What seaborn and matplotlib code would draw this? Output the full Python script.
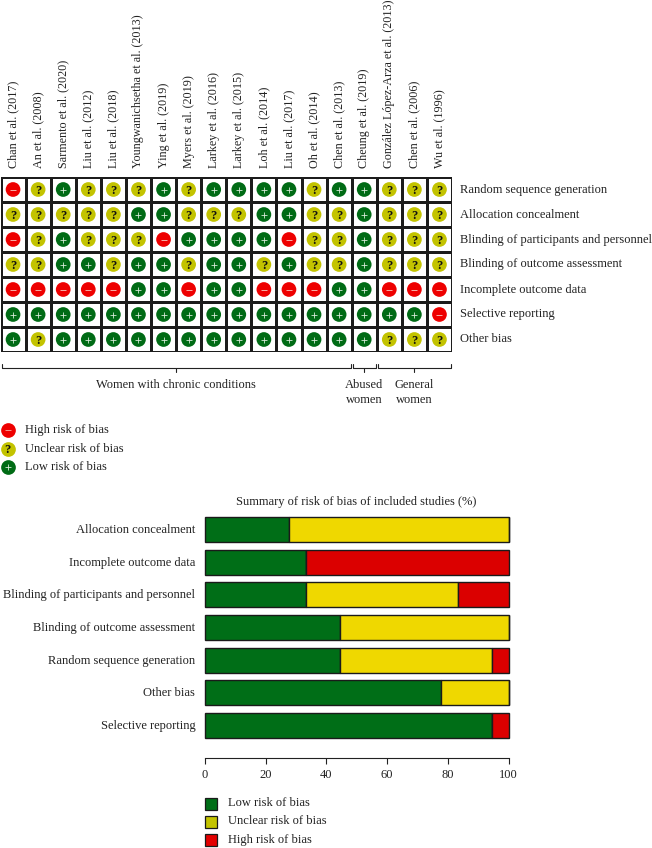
"""Risk of bias graph: per-study traffic lights plus summary stacked bars."""

import matplotlib

matplotlib.use("Agg")
import matplotlib.pyplot as plt
import numpy as np
import pandas as pd
import seaborn as sns
from matplotlib.colors import ListedColormap
from matplotlib.patches import Rectangle
from matplotlib.transforms import ScaledTranslation

W, H = 652, 848

studies = [
    "Chan et al. (2017)", "An et al. (2008)", "Sarmento et al. (2020)",
    "Liu et al. (2012)", "Liu et al. (2018)", "Youngwanichsetha et al. (2013)",
    "Ying et al. (2019)", "Myers et al. (2019)", "Larkey et al. (2016)",
    "Larkey et al. (2015)", "Loh et al. (2014)", "Liu et al. (2017)",
    "Oh et al. (2014)", "Chen et al. (2013)", "Cheung et al. (2019)",
    "González López-Arza et al. (2013)", "Chen et al. (2006)", "Wu et al. (1996)",
]
domains = [
    "Random sequence generation", "Allocation concealment",
    "Blinding of participants and personnel", "Blinding of outcome assessment",
    "Incomplete outcome data", "Selective reporting", "Other bias",
]

# one string per domain, one sign per study
random_seq = "-?+???+?++++?++???"
allocation = "?????++???++??+???"
blinding_part = "-?+???-++++-??+???"
blinding_out = "??++?++?++?+??+???"
incomplete = "-----++-++---++---"
selective = "+++++++++++++++++-"
other = "+?+++++++++++++???"
ratings = [random_seq, allocation, blinding_part, blinding_out, incomplete, selective, other]

groups = ["Women with chronic conditions", "Abused\nwomen", "General\nwomen"]
group_sizes = [14, 1, 3]

summary_domains = [
    "Allocation concealment", "Incomplete outcome data",
    "Blinding of participants and personnel", "Blinding of outcome assessment",
    "Random sequence generation", "Other bias", "Selective reporting",
]
low_pct = [27.8, 33.3, 33.3, 44.4, 44.4, 77.8, 94.4]
unclear_pct = [72.2, 0, 50.0, 55.6, 50.0, 22.2, 0]
high_pct = [0, 66.7, 16.7, 0, 5.6, 0, 5.6]

CIRCLE = {"-": "#ee0000", "?": "#c3c300", "+": "#006b15"}
BAR_GREEN, BAR_YELLOW, BAR_RED = "#006e17", "#efd800", "#db0000"
TEXT = "#222222"
FS = 9.0

sns.set_theme(style="white")
plt.rcParams["font.family"] = ["Liberation Serif", "DejaVu Serif"]
plt.rcParams["text.color"] = TEXT
plt.rcParams["axes.labelcolor"] = TEXT
plt.rcParams["xtick.color"] = TEXT
plt.rcParams["ytick.color"] = TEXT


def px_axes(fig, left, top, right, bottom):
    return fig.add_axes([left / W, 1 - bottom / H, (right - left) / W, (bottom - top) / H])


def nudge_up(ax, fig, pixels):
    shift = ScaledTranslation(0, pixels / fig.dpi, fig.dpi_scale_trans)
    for label in ax.get_yticklabels():
        label.set_transform(label.get_transform() + shift)


def main() -> None:
    fig = plt.figure(figsize=(W / 100, H / 100), dpi=100)

    # --- per-study grid ---
    ax = px_axes(fig, 0.5, 177, 452, 352)
    sns.heatmap(
        np.zeros((len(domains), len(studies))), cmap=ListedColormap(["white"]), cbar=False,
        linewidths=0.95, linecolor="#1c1c1c", xticklabels=studies, yticklabels=domains, ax=ax,
    )
    ax.xaxis.tick_top()
    ax.yaxis.tick_right()
    ax.tick_params(axis="x", length=0, pad=6.5, labelsize=8.7, labelrotation=90)
    ax.tick_params(axis="y", length=0, pad=6, labelsize=FS, labelrotation=0)
    nudge_up(ax, fig, 1.5)

    long = pd.DataFrame(
        [
            {"col": j + 0.5, "row": i + 0.5, "rating": sign}
            for i, row in enumerate(ratings)
            for j, sign in enumerate(row)
        ]
    )
    sns.scatterplot(
        data=long, x="col", y="row", hue="rating", palette=CIRCLE, s=112,
        linewidth=0, legend=False, ax=ax, zorder=3,
    )
    sns.scatterplot(
        data=long[long["rating"] == "+"], x="col", y="row", marker="+", color="#d8ead8",
        s=22, linewidth=0.6, legend=False, ax=ax, zorder=4,
    )
    sns.scatterplot(
        data=long[long["rating"] == "-"], x="col", y="row", marker="_", color="#f7b0a8",
        s=18, linewidth=0.7, legend=False, ax=ax, zorder=4,
    )
    for _, q in long[long["rating"] == "?"].iterrows():
        ax.text(q["col"], q["row"], "?", ha="center", va="center_baseline",
                fontsize=9, fontweight="bold", color="#111111", zorder=4)
    ax.set_xlim(0, len(studies))
    ax.set_ylim(len(domains), 0)
    ax.set_xlabel("")
    ax.set_ylabel("")

    # --- overlay in pixel coordinates for brackets and legends ---
    over = fig.add_axes([0, 0, 1, 1], facecolor="none")
    over.set_xlim(0, W)
    over.set_ylim(H, 0)
    over.axis("off")

    cell = 451.5 / len(studies)
    start = 0
    for name, size in zip(groups, group_sizes):
        x0 = start * cell + 1.5
        x1 = (start + size) * cell - 0.5
        mid = (x0 + x1) / 2
        over.plot([x0, x0, x1, x1], [363.5, 367.5, 367.5, 363.5], color="#222222", lw=0.8)
        over.plot([mid, mid], [367.5, 372], color="#222222", lw=0.8)
        first_y = 385 if "\n" not in name else 392.5
        over.text(mid, first_y, name, ha="center", va="center", fontsize=FS, linespacing=1.3)
        start += size

    for y, sign, label in [(430, "-", "High risk of bias"), (448.5, "?", "Unclear risk of bias"),
                           (467, "+", "Low risk of bias")]:
        over.scatter([7.5], [y], s=112, color=CIRCLE[sign], linewidths=0)
        if sign == "?":
            over.text(7.5, y, "?", ha="center", va="center_baseline", fontsize=9,
                      fontweight="bold", color="#111111")
        else:
            mark = "+" if sign == "+" else "_"
            col = "#d8ead8" if sign == "+" else "#f7b0a8"
            over.scatter([7.5], [y], s=20, marker=mark, color=col, linewidths=0.6)
        over.text(25, y, label, va="center", fontsize=FS)

    # --- summary stacked bars ---
    bx = px_axes(fig, 205, 515, 508.5, 757.5)
    low = np.array(low_pct)
    unclear = np.array(unclear_pct)
    high = np.array(high_pct)
    for values, lefts, colour in [(low, np.zeros(7), BAR_GREEN), (unclear, low, BAR_YELLOW),
                                  (high, low + unclear, BAR_RED)]:
        sns.barplot(
            x=values, y=summary_domains, left=lefts, order=summary_domains, orient="h",
            color=colour, saturation=1, width=0.77, edgecolor="#1a1a1a", linewidth=1.0,
            ax=bx, clip_on=False,
        )
    bx.set_xlim(0, 100)
    bx.set_ylim(6.98, -0.444)
    bx.set_xticks([0, 20, 40, 60, 80, 100])
    bx.tick_params(axis="x", length=4.5, width=0.8, pad=4, labelsize=FS, bottom=True, color="#222222")
    bx.tick_params(axis="y", length=0, pad=7, labelsize=FS)
    nudge_up(bx, fig, 1)
    sns.despine(ax=bx, left=True)
    bx.spines["bottom"].set_color("#222222")
    bx.spines["bottom"].set_linewidth(0.8)
    bx.set_xlabel("")
    bx.set_ylabel("")
    bx.patch.set_alpha(0)

    over.text(356, 502, "Summary of risk of bias of included studies (%)", ha="center",
              va="center", fontsize=FS)
    for y, colour, label in [(803.5, "#006e17", "Low risk of bias"), (822, "#c4c400", "Unclear risk of bias"),
                             (840, "#e30000", "High risk of bias")]:
        over.add_patch(Rectangle((204.5, y - 6), 12, 12, facecolor=colour, edgecolor="#1a1a1a", lw=0.9))
        over.text(228, y - 0.5, label, va="center", fontsize=FS)

    fig.savefig("out.png", dpi=100)
    plt.close(fig)


if __name__ == "__main__":
    main()
